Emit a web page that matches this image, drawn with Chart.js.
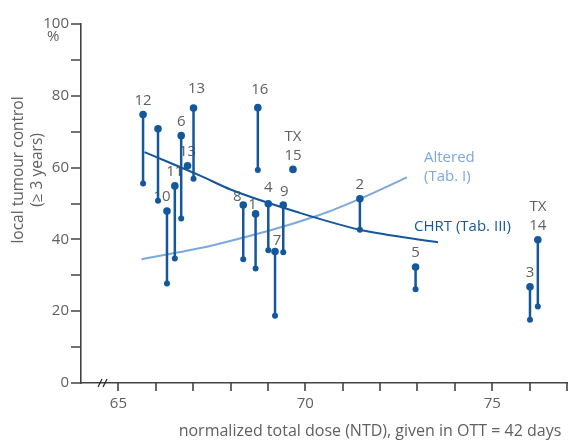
<!DOCTYPE html>
<html>
<head>
<meta charset="utf-8">
<script src="https://cdn.jsdelivr.net/npm/chart.js@4/dist/chart.umd.min.js"></script>
<style>
  html, body { margin: 0; padding: 0; background: #fff; }
  canvas { display: block; }
</style>
</head>
<body>
<canvas id="chart" width="574" height="442"></canvas>
<script>
// Studies: dose (NTD), higher and lower local control values
const doses = [65.66, 66.06, 66.30, 66.51, 66.68, 66.85, 67.01, 68.34, 68.67, 68.73, 69.01, 69.19, 69.41, 69.67, 71.46, 72.95, 76.01, 76.22];
const highs = [74.8, 70.8, 47.9, 54.9, 68.9, 60.5, 76.6, 49.6, 47.1, 76.7, 49.9, 36.6, 49.6, 59.5, 51.3, 32.3, 26.8, 39.9];
const lows = [55.6, 50.8, 27.7, 34.7, 45.8, null, 56.9, 34.5, 31.9, 59.3, 37.0, 18.7, 36.4, null, 42.7, 26.1, 17.6, 21.3];
const studyLabels = ['12', '', '10', '11', '6', '13', '13', '8', '1', '16', '4', '7', '9', 'TX\n15', '2', '5', '3', 'TX\n14'];

// Fitted curves
const chrtDose = [65.7, 67.2, 68.0, 69.85, 71.46, 73.55];
const chrtControl = [64.3, 57.7, 53.9, 47.4, 42.7, 39.2];
const alteredDose = [65.62, 67.62, 70.38, 71.46, 72.72];
const alteredControl = [34.5, 38.6, 46.8, 51.3, 57.3];

// Axis ticks
const xTicks = [65, 66, 67, 68, 69, 70, 71, 72, 73, 74, 75, 76, 77];
const xLabelTicks = [65, 70, 75];
const yTicks = [0, 10, 20, 30, 40, 50, 60, 70, 80, 90, 100];
const yLabelTicks = [0, 20, 40, 60, 80, 100];

const DARK = '#14579b';
const LIGHT = '#7ca8dc';
const GREY = '#606060';
const AXIS = '#444444';
const FONT = "'Open Sans', 'Noto Sans', sans-serif";

// Build the stems: top, bottom, gap
let stemPoints = [];
doses.forEach((d, i) => {
    stemPoints.push({ x: d, y: highs[i] });
    if (lows[i] !== null) stemPoints.push({ x: d, y: lows[i] });
    stemPoints.push({ x: d, y: null });
});

// small nudges for the study numbers [dx, dy]
const labelNudge = { 2: [-5, 0], 6: [3, -5], 7: [-6, 6], 8: [-3, 5], 9: [2, -4], 10: [0, -2], 11: [2, 3], 12: [1, 1] };

const labelPlugin = {
    id: 'labels',
    beforeDatasetsDraw(chart) {
        const ctx = chart.ctx;
        const xs = chart.scales.x, ys = chart.scales.y;
        ctx.save();
        ctx.fillStyle = GREY;
        ctx.font = '15px ' + FONT;
        ctx.textAlign = 'center';
        ctx.textBaseline = 'middle';
        studyLabels.forEach((lab, i) => {
            if (!lab) return;
            const n = labelNudge[i] || [0, 0];
            const px = xs.getPixelForValue(doses[i]) + n[0];
            const py = ys.getPixelForValue(highs[i]) - 14 + n[1];
            const lines = lab.split('\n');
            lines.reverse().forEach((t, k) => ctx.fillText(t, px, py - k * 19));
        });
        ctx.restore();
    },
    afterDraw(chart) {
        const ctx = chart.ctx;
        const area = chart.chartArea;
        const xs = chart.scales.x, ys = chart.scales.y;
        ctx.save();

        // tick marks (all of them, minor ones too)
        ctx.strokeStyle = AXIS;
        ctx.lineWidth = 1.6;
        ctx.beginPath();
        yTicks.forEach(v => {
            const py = Math.round(ys.getPixelForValue(v));
            ctx.moveTo(area.left - 10, py);
            ctx.lineTo(area.left, py);
        });
        xTicks.forEach(v => {
            const px = Math.round(xs.getPixelForValue(v));
            ctx.moveTo(px, area.bottom);
            ctx.lineTo(px, area.bottom + 8);
        });
        ctx.stroke();

        ctx.fillStyle = GREY;
        ctx.textBaseline = 'middle';

        // percent sign under 100
        ctx.textAlign = 'left';
        ctx.font = '15px ' + FONT;
        ctx.fillText('%', 47, 37);

        // x title
        ctx.font = '16px ' + FONT;
        ctx.textAlign = 'center';
        ctx.fillText('normalized total dose (NTD), given in OTT = 42 days', 370, 431);

        // y title
        ctx.save();
        ctx.font = '15.5px ' + FONT;
        ctx.translate(19, 170);
        ctx.rotate(-Math.PI / 2);
        ctx.fillText('local tumour control', 0, 0);
        ctx.fillText('(\u2265 3 years)', 0, 19);
        ctx.restore();

        // curve captions
        ctx.font = '15px ' + FONT;
        ctx.textAlign = 'left';
        ctx.fillStyle = LIGHT;
        ctx.fillText('Altered', 424, 158);
        ctx.fillText('(Tab. I)', 424, 177);
        ctx.fillStyle = DARK;
        ctx.fillText('CHRT (Tab. III)', 414, 227);

        // axis break
        const bx = 101, by = area.bottom;
        ctx.strokeStyle = '#222';
        ctx.lineWidth = 1.2;
        ctx.beginPath();
        ctx.moveTo(bx - 3, by + 4); ctx.lineTo(bx + 1, by - 4);
        ctx.moveTo(bx + 2, by + 4); ctx.lineTo(bx + 6, by - 4);
        ctx.stroke();
        ctx.restore();
    }
};

new Chart(document.getElementById('chart'), {
    type: 'line',
    data: {
        datasets: [
            {
                data: stemPoints,
                borderColor: DARK,
                backgroundColor: DARK,
                borderWidth: 2.5,
                spanGaps: false,
                pointRadius: c => (c.dataIndex === 0 || (c.dataset.data[c.dataIndex - 1] && c.dataset.data[c.dataIndex - 1].y === null)) ? 3.8 : 3,
                pointBorderWidth: 0,
                order: 0
            },
            {
                data: chrtDose.map((d, i) => ({ x: d, y: chrtControl[i] })),
                borderColor: DARK,
                borderWidth: 2,
                pointRadius: 0,
                cubicInterpolationMode: 'monotone',
                order: 1
            },
            {
                data: alteredDose.map((d, i) => ({ x: d, y: alteredControl[i] })),
                borderColor: LIGHT,
                borderWidth: 2,
                pointRadius: 0,
                cubicInterpolationMode: 'monotone',
                order: 2
            }
        ]
    },
    options: {
        responsive: false,
        animation: false,
        layout: { padding: { top: 24, right: 7, left: 0, bottom: 0 } },
        plugins: { legend: { display: false }, tooltip: { enabled: false } },
        scales: {
            x: {
                type: 'linear',
                min: 64,
                max: 77,
                afterFit: s => { s.height = 59; },
                ticks: {
                    stepSize: 5,
                    autoSkip: false,
                    maxRotation: 0,
                    color: GREY,
                    font: { size: 15, family: FONT },
                    padding: 4,
                    callback: v => xLabelTicks.includes(v) ? String(v) : ''
                },
                grid: { drawOnChartArea: false, tickLength: 8, color: 'rgba(0,0,0,0)' },
                border: { color: AXIS, width: 1.6 }
            },
            y: {
                min: 0,
                max: 100,
                afterFit: s => { s.width = 81; },
                ticks: {
                    stepSize: 20,
                    autoSkip: false,
                    color: GREY,
                    font: { size: 15, family: FONT },
                    padding: 2,
                    callback: v => yLabelTicks.includes(v) ? String(v) : ''
                },
                grid: { drawOnChartArea: false, tickLength: 10, color: 'rgba(0,0,0,0)' },
                border: { color: AXIS, width: 1.6 }
            }
        }
    },
    plugins: [labelPlugin]
});
</script>
</body>
</html>
